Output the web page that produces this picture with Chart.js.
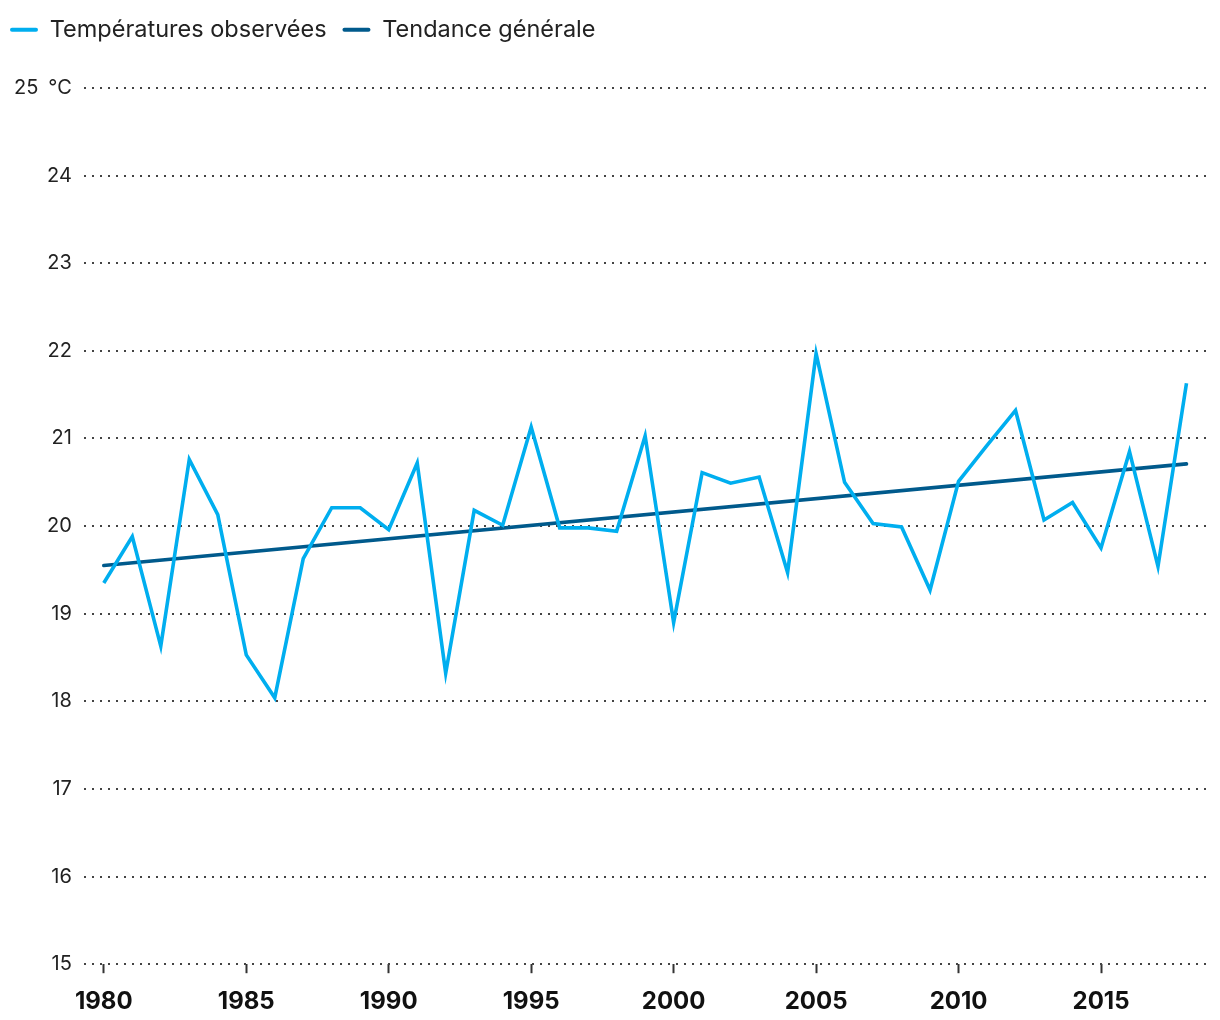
<!DOCTYPE html>
<html>
<head>
<meta charset="utf-8">
<script src="https://cdn.jsdelivr.net/npm/chart.js@4.4.1/dist/chart.umd.min.js"></script>
<style>
  html, body { margin: 0; padding: 0; background: #fff; }
  #wrap { width: 1220px; height: 1020px; }
</style>
</head>
<body>
<div id="wrap"><canvas id="c" width="1220" height="1020"></canvas></div>
<script>
const years = [1980,1981,1982,1983,1984,1985,1986,1987,1988,1989,
               1990,1991,1992,1993,1994,1995,1996,1997,1998,1999,
               2000,2001,2002,2003,2004,2005,2006,2007,2008,2009,
               2010,2011,2012,2013,2014,2015,2016,2017,2018];
const observed = [19.35,19.88,18.63,20.76,20.13,18.53,18.04,19.63,20.21,20.21,
                  19.96,20.72,18.32,20.18,20.01,21.13,19.98,19.98,19.94,21.03,
                  18.90,20.61,20.49,20.56,19.47,21.97,20.50,20.03,19.99,19.27,
                  20.51,20.92,21.32,20.07,20.27,19.75,20.85,19.54,21.63];
const trendYears = [1980, 2018];
const trendValues = [19.55, 20.71];
const xTicks = [1980,1985,1990,1995,2000,2005,2010,2015];
const yTicks = [15,16,17,18,19,20,21,22,23,24,25];
const seriesNames = ['Températures observées', 'Tendance générale'];

const obsData = years.map((y, i) => ({x: y, y: observed[i]}));
const trendData = trendYears.map((y, i) => ({x: y, y: trendValues[i]}));

const legendSpace = {
  id: 'legendSpace',
  beforeInit(chart) {
    const origFit = chart.legend.fit;
    chart.legend.fit = function () {
      origFit.bind(chart.legend)();
      this.height = 78;
    };
  }
};

new Chart(document.getElementById('c'), {
  type: 'line',
  plugins: [legendSpace],
  data: {
    datasets: [
      { label: seriesNames[0], data: obsData, borderColor: '#00AEEF', backgroundColor: '#00AEEF',
        borderWidth: 3.6, pointRadius: 0, tension: 0, borderJoinStyle: 'miter' },
      { label: seriesNames[1], data: trendData, borderColor: '#005A8C', backgroundColor: '#005A8C',
        borderWidth: 3.6, pointRadius: 0, tension: 0, borderCapStyle: 'round' }
    ]
  },
  options: {
    responsive: false,
    devicePixelRatio: 1,
    animation: false,
    layout: { padding: { left: 2, right: 13, top: 10, bottom: -10 } },
    plugins: {
      tooltip: { enabled: false },
      legend: {
        position: 'top',
        align: 'start',
        labels: {
          color: '#222',
          font: { family: 'Inter', size: 23.5 },
          boxWidth: 28,
          boxHeight: 4,
          padding: 8,
          generateLabels(chart) {
            return chart.data.datasets.map((d, i) => ({
              text: i === 0 ? d.label + '\u2004' : d.label,
              fillStyle: d.borderColor, strokeStyle: d.borderColor,
              lineWidth: 0, datasetIndex: i, borderRadius: 2, fontColor: '#222'
            }));
          },
          useBorderRadius: true,
          borderRadius: 2
        }
      }
    },
    scales: {
      x: {
        type: 'linear',
        min: 1979.3,
        max: 2018.72,
        afterBuildTicks(scale) { scale.ticks = xTicks.map(v => ({value: v})); },
        ticks: {
          color: '#111',
          font: { family: 'Inter', size: 24, weight: 'bold' },
          padding: 14,
          maxRotation: 0,
          callback: v => String(v)
        },
        grid: { drawOnChartArea: false, drawTicks: true, tickLength: 9, tickColor: '#333', tickWidth: 2 },
        border: { display: false }
      },
      y: {
        min: 15,
        max: 25,
        afterBuildTicks(scale) { scale.ticks = yTicks.map(v => ({value: v})); },
        ticks: {
          color: '#222',
          font: { family: 'Inter', size: 20 },
          padding: 12,
          callback: v => v === 25 ? '25\u2002°C' : String(v)
        },
        grid: { color: '#444', lineWidth: 2, drawTicks: false },
        border: { display: false, dash: [2, 6] }
      }
    }
  }
});
</script>
</body>
</html>
